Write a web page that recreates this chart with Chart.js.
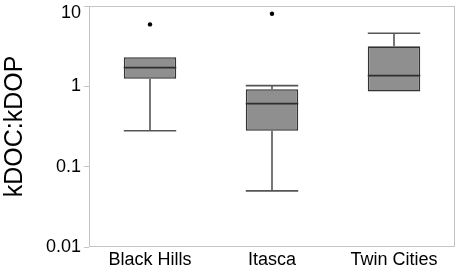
<!DOCTYPE html>
<html>
<head>
<meta charset="utf-8">
<script src="https://cdn.jsdelivr.net/npm/chart.js@4/dist/chart.umd.min.js"></script>
<style>
html,body{margin:0;padding:0;background:#fff;}
#wrap{width:459px;height:270px;position:relative;}
</style>
</head>
<body>
<div id="wrap"><canvas id="c" width="459" height="270"></canvas></div>
<script>
const categories = ['Black Hills', 'Itasca', 'Twin Cities'];
const whiskerLow  = [0.28, 0.05, 0.86];
const q1          = [1.24, 0.28, 0.86];
const median      = [1.71, 0.61, 1.36];
const q3          = [2.30, 0.92, 3.15];
const whiskerHigh = [2.30, 1.02, 4.57];
const outliers    = [5.9, 8.0, null];
const yTicks      = [0.01, 0.1, 1, 10];
const yTickLabels = ['0.01', '0.1', '1', '10'];
const yTitle = 'kDOC:kDOP';

const FONT = "'Liberation Sans', Arial, Helvetica, sans-serif";
const AXIS_GRAY = '#c4c4c4';

const boxPlugin = {
  id: 'boxParts',
  beforeDraw(chart) {
    const ys = chart.scales.y;
    const items = ys.getLabelItems(chart.chartArea);
    items.forEach(it => {
      if (it.label === yTickLabels[yTickLabels.length - 1]) {
        it.options.translation = [it.options.translation[0], chart.chartArea.top + 7];
      }
    });
    const a = chart.chartArea, ctx = chart.ctx;
    ctx.save();
    ctx.strokeStyle = AXIS_GRAY;
    ctx.lineWidth = 1;
    ctx.strokeRect(a.left + 0.5, a.top + 0.5, a.right - a.left - 1, a.bottom - a.top - 1);
    ctx.restore();
  },
  afterDatasetsDraw(chart) {
    const ctx = chart.ctx;
    const xs = chart.scales.x, ys = chart.scales.y;
    const meta = chart.getDatasetMeta(0);
    ctx.save();
    categories.forEach((c, i) => {
      const bar = meta.data[i];
      const cx = xs.getPixelForValue(i);
      const hw = bar.width / 2;
      const yQ1 = ys.getPixelForValue(q1[i]);
      const yQ3 = ys.getPixelForValue(q3[i]);
      const yLo = ys.getPixelForValue(whiskerLow[i]);
      const yHi = ys.getPixelForValue(whiskerHigh[i]);
      const yMed = ys.getPixelForValue(median[i]);
      ctx.strokeStyle = '#555555';
      ctx.lineWidth = 1.6;
      ctx.beginPath();
      if (whiskerHigh[i] > q3[i]) {
        ctx.moveTo(cx, yQ3); ctx.lineTo(cx, yHi);
        ctx.moveTo(cx - hw, yHi); ctx.lineTo(cx + hw, yHi);
      }
      if (whiskerLow[i] < q1[i]) {
        ctx.moveTo(cx, yQ1); ctx.lineTo(cx, yLo);
        ctx.moveTo(cx - hw, yLo); ctx.lineTo(cx + hw, yLo);
      }
      ctx.stroke();
      ctx.strokeStyle = '#2e2e2e';
      ctx.lineWidth = 1.6;
      ctx.beginPath();
      ctx.moveTo(cx - hw, yMed); ctx.lineTo(cx + hw, yMed);
      ctx.stroke();
    });
    ctx.restore();
  }
};

new Chart(document.getElementById('c'), {
  type: 'bar',
  data: {
    labels: categories,
    datasets: [
      {
        type: 'bar',
        data: q1.map((v, i) => [v, q3[i]]),
        backgroundColor: '#8f8f8f',
        borderColor: '#333333',
        borderWidth: 1.6,
        borderSkipped: false,
        barPercentage: 0.43,
        categoryPercentage: 1.0,
        order: 2
      },
      {
        type: 'line',
        data: outliers,
        showLine: false,
        pointRadius: 2.2,
        pointBackgroundColor: '#000',
        pointBorderColor: '#000',
        pointBorderWidth: 0,
        order: 1
      }
    ]
  },
  options: {
    responsive: false,
    animation: false,
    layout: { padding: { top: 6, right: 4, left: 0, bottom: 0 } },
    plugins: { legend: { display: false }, tooltip: { enabled: false } },
    scales: {
      x: {
        type: 'category',
        grid: { display: false, drawTicks: false },
        border: { display: false },
        ticks: { color: '#000', font: { family: FONT, size: 18 }, padding: 2, maxRotation: 0 },
        afterFit(s) { s.height = 23; s.paddingLeft = 0; s.paddingRight = 0; }
      },
      y: {
        type: 'logarithmic',
        min: 0.01,
        max: 10,
        afterBuildTicks(s) { s.ticks = yTicks.map(v => ({ value: v })); },
        grid: { display: true, drawOnChartArea: false, drawTicks: true, tickLength: 5, color: AXIS_GRAY },
        border: { display: false },
        ticks: {
          color: '#000',
          font: { family: FONT, size: 18 },
          padding: 3,
          callback(v) { const k = yTicks.indexOf(v); return k >= 0 ? yTickLabels[k] : ''; }
        },
        title: { display: true, text: yTitle, color: '#000', font: { family: FONT, size: 25 }, padding: { top: 0, bottom: 0 } },
        afterFit(s) { s.width = 89; s.paddingTop = 0; s.paddingBottom = 0; }
      }
    }
  },
  plugins: [boxPlugin]
});
</script>
</body>
</html>
